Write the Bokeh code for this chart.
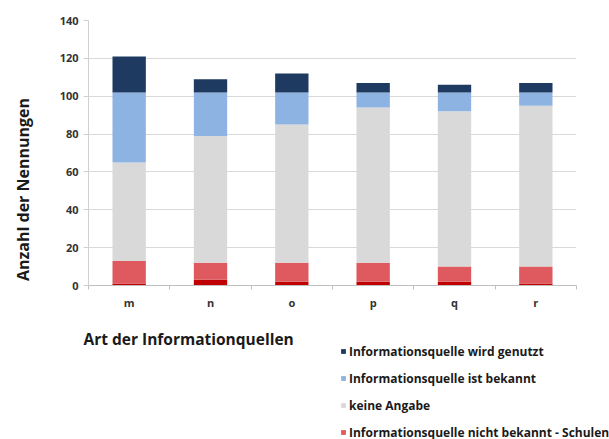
from bokeh.plotting import figure
from bokeh.layouts import row, column
from bokeh.models import (Range1d, FixedTicker, SingleIntervalTicker, Legend, LegendItem, Label)
from bokeh.embed import file_html
from bokeh.resources import INLINE
import math

categories = ["m", "n", "o", "p", "q", "r"]
nicht_bekannt_andere = [1, 3, 2, 2, 2, 1]
nicht_bekannt_schulen = [12, 9, 10, 10, 8, 9]
keine_angabe = [52, 67, 73, 82, 82, 85]
ist_bekannt = [37, 23, 17, 8, 10, 7]
wird_genutzt = [19, 7, 10, 5, 4, 5]

series_names = ["nicht_bekannt_andere", "nicht_bekannt_schulen", "keine_angabe", "ist_bekannt", "wird_genutzt"]
series_labels = {
    "wird_genutzt": "Informationsquelle wird genutzt",
    "ist_bekannt": "Informationsquelle ist bekannt",
    "keine_angabe": "keine Angabe",
    "nicht_bekannt_schulen": "Informationsquelle nicht bekannt - Schulen",
}
legend_order = ["wird_genutzt", "ist_bekannt", "keine_angabe", "nicht_bekannt_schulen"]
colors = ["#C00000", "#DE5A5F", "#D9D9D9", "#8DB3E2", "#1F3A60"]
x_title = "Art der Informationquellen"
y_title = "Anzahl der Nennungen"

xpos = [i + 0.5 for i in range(len(categories))]
source = dict(
    x=xpos,
    nicht_bekannt_andere=nicht_bekannt_andere,
    nicht_bekannt_schulen=nicht_bekannt_schulen,
    keine_angabe=keine_angabe,
    ist_bekannt=ist_bekannt,
    wird_genutzt=wird_genutzt,
)

FONT = "Open Sans"
LEFT_W = 50
TOP_H = 318
FRAME_TOP = 20
FRAME_BOTTOM = 285

# ---------- y title strip ----------
pl = figure(width=LEFT_W, height=TOP_H, output_backend="svg", toolbar_location=None,
            x_range=Range1d(0, 1), y_range=Range1d(0, 1), x_axis_type=None, y_axis_type=None,
            min_border_left=0, min_border_right=0, min_border_top=FRAME_TOP,
            min_border_bottom=TOP_H - FRAME_BOTTOM)
pl.outline_line_color = None
pl.grid.visible = False
pl.add_layout(Label(x=22, y=FRAME_BOTTOM - 189, x_units="screen", y_units="screen", angle=math.pi / 2,
                    text=y_title, text_font=FONT, text_font_style="bold",
                    text_font_size="16px", text_color="#1a1a1a",
                    text_baseline="middle", text_align="center"))

# ---------- chart ----------
p = figure(width=609 - LEFT_W, height=TOP_H, output_backend="svg", toolbar_location=None,
           x_range=Range1d(0, len(categories)), y_range=Range1d(0, 140),
           min_border_left=88 - LEFT_W, min_border_right=33, min_border_top=FRAME_TOP,
           min_border_bottom=TOP_H - FRAME_BOTTOM)
p.outline_line_color = None

rs = p.vbar_stack(series_names, x="x", width=0.41, source=source, color=colors, line_color=None)

p.xaxis.ticker = FixedTicker(ticks=xpos, minor_ticks=list(range(len(categories) + 1)))
p.xaxis.major_label_overrides = {x: c for x, c in zip(xpos, categories)}
p.xaxis.major_tick_line_color = None
p.xaxis.minor_tick_line_color = "#BFBFBF"
p.xaxis.minor_tick_out = 4
p.xaxis.minor_tick_in = 0
p.xaxis.axis_line_color = "#BFBFBF"
p.xaxis.major_label_standoff = 3
p.xaxis.major_label_text_font = FONT
p.xaxis.major_label_text_font_style = "bold"
p.xaxis.major_label_text_font_size = "11px"
p.xaxis.major_label_text_color = "#333333"

p.yaxis.ticker = SingleIntervalTicker(interval=20)
p.yaxis.axis_line_color = "#D0D0D0"
p.yaxis.major_tick_line_color = "#D0D0D0"
p.yaxis.major_tick_out = 5
p.yaxis.major_tick_in = 0
p.yaxis.minor_tick_line_color = None
p.yaxis.major_label_standoff = 5
p.yaxis.major_label_text_font = FONT
p.yaxis.major_label_text_font_style = "bold"
p.yaxis.major_label_text_font_size = "11px"
p.yaxis.major_label_text_color = "#333333"

p.xgrid.grid_line_color = None
p.ygrid.grid_line_color = "#D9D9D9"
p.ygrid.ticker = SingleIntervalTicker(interval=20)

# ---------- x title + legend strip (full width) ----------
H2 = 439 - TOP_H
p2 = figure(width=609, height=H2, output_backend="svg", toolbar_location=None,
            x_range=Range1d(0, 1), y_range=Range1d(0, 1), x_axis_type=None, y_axis_type=None,
            min_border=0)
p2.outline_line_color = None
p2.grid.visible = False
p2.add_layout(Label(x=83, y=H2 - (338 - TOP_H), x_units="screen", y_units="screen",
                    text=x_title, text_font=FONT, text_font_style="bold",
                    text_font_size="15.5px", text_color="#1a1a1a",
                    text_baseline="middle", text_align="left"))

nan = float("nan")
dummy = {name: p2.vbar(x=[nan], top=[nan], width=0.1, color=colors[series_names.index(name)],
                       line_color=None)
         for name in legend_order}
items = [LegendItem(label=series_labels[name], renderers=[dummy[name]]) for name in legend_order]
legend = Legend(items=items, location=(340, -3), orientation="vertical",
                label_text_font=FONT, label_text_font_style="bold", label_text_font_size="12px",
                label_text_color="#1a1a1a", glyph_width=6, glyph_height=6, label_standoff=3,
                label_height=20, spacing=7, padding=0, margin=0,
                border_line_color=None, background_fill_alpha=0)
p2.add_layout(legend, "center")

layout = column(row(pl, p, spacing=0), p2, spacing=0)
open("out.html", "w").write(file_html(layout, INLINE))
